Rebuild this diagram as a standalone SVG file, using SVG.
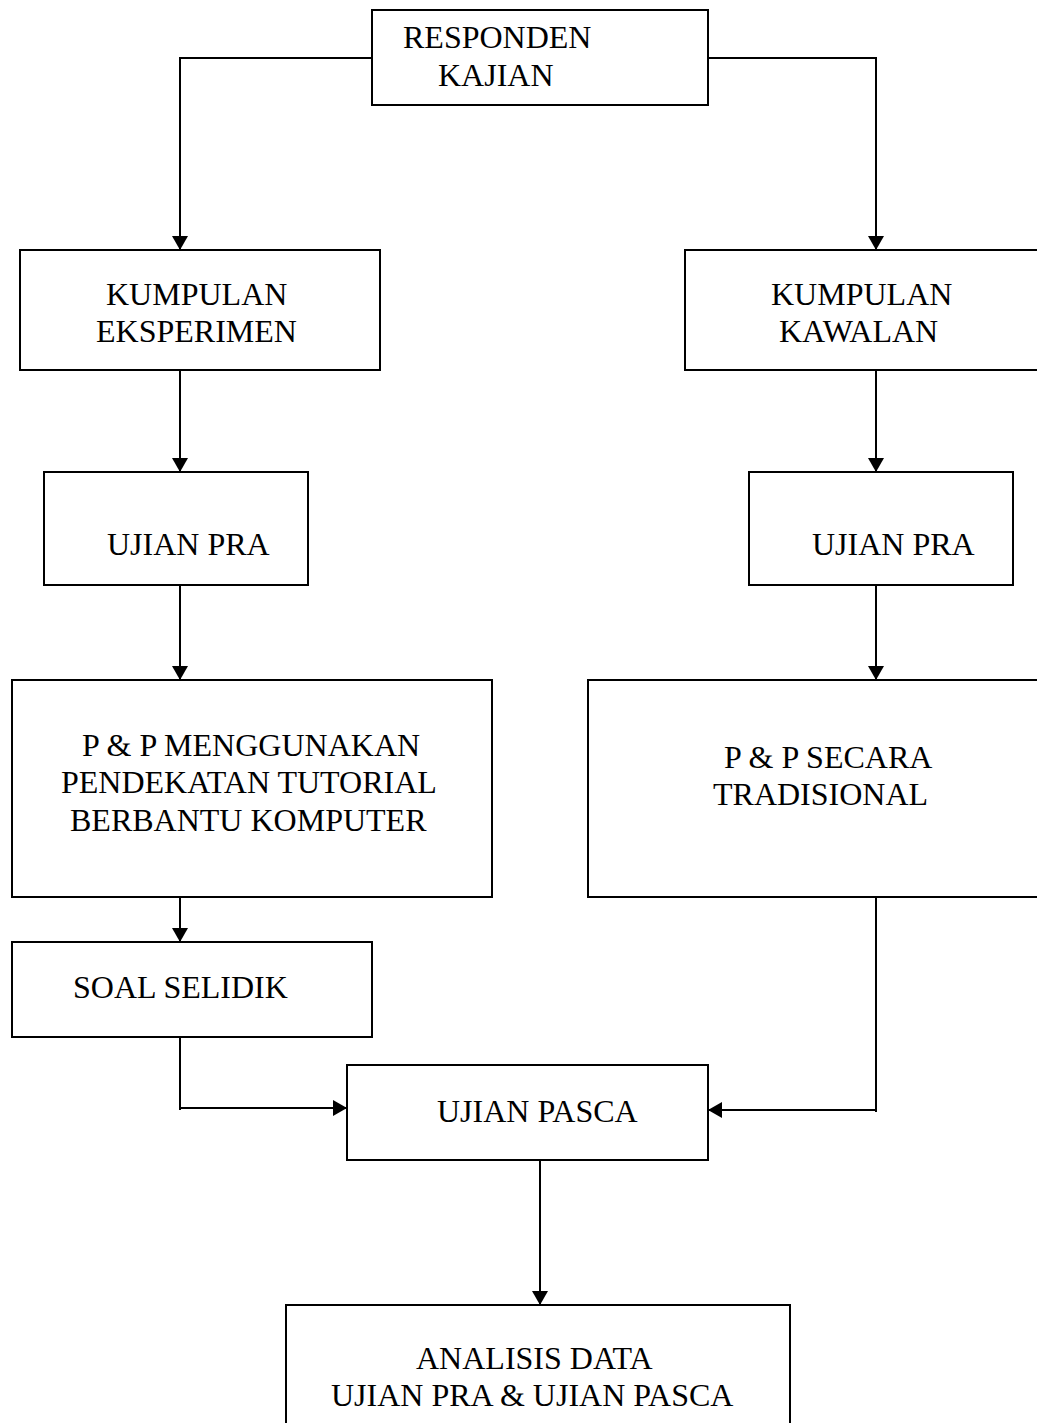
<svg xmlns="http://www.w3.org/2000/svg" width="1037" height="1423" viewBox="0 0 1037 1423">
<style>
.box{fill:#fff;stroke:#000;stroke-width:2}
.t{font-family:"Liberation Serif","Times New Roman",serif;font-size:32px;fill:#000}
.c{fill:none;stroke:#000;stroke-width:2}
</style>
<defs>
<marker id="ah" markerWidth="14" markerHeight="16" refX="14" refY="8" orient="auto" markerUnits="userSpaceOnUse">
<path d="M0,0 L14,8 L0,16 Z" fill="#000"/>
</marker>
</defs>
<rect width="1037" height="1423" fill="#fff"/>
<g id="connectors">
<path class="c" d="M372,58 H180 V250" marker-end="url(#ah)"/>
<path class="c" d="M708,58 H876 V250" marker-end="url(#ah)"/>
<path class="c" d="M180,370 V472" marker-end="url(#ah)"/>
<path class="c" d="M876,370 V472" marker-end="url(#ah)"/>
<path class="c" d="M180,585 V680" marker-end="url(#ah)"/>
<path class="c" d="M876,585 V680" marker-end="url(#ah)"/>
<path class="c" d="M180,897 V942" marker-end="url(#ah)"/>
<path class="c" d="M180,1037 V1110"/>
<path class="c" d="M180,1108 H347" marker-end="url(#ah)"/>
<path class="c" d="M876,897 V1112"/>
<path class="c" d="M876,1110 H708" marker-end="url(#ah)"/>
<path class="c" d="M540,1160 V1305" marker-end="url(#ah)"/>
</g>
<g id="n-responden"><rect class="box" x="372" y="10" width="336" height="95"/><text class="t" x="403" y="48">RESPONDEN</text><text class="t" x="438" y="86">KAJIAN</text></g>
<g id="n-eksperimen"><rect class="box" x="20" y="250" width="360" height="120"/><text class="t" x="106" y="305">KUMPULAN</text><text class="t" x="96" y="342">EKSPERIMEN</text></g>
<g id="n-kawalan"><rect class="box" x="685" y="250" width="360" height="120"/><text class="t" x="771" y="305">KUMPULAN</text><text class="t" x="779" y="342">KAWALAN</text></g>
<g id="n-prakiri"><rect class="box" x="44" y="472" width="264" height="113"/><text class="t" x="107" y="555">UJIAN PRA</text></g>
<g id="n-prakanan"><rect class="box" x="749" y="472" width="264" height="113"/><text class="t" x="812" y="555">UJIAN PRA</text></g>
<g id="n-tutorial"><rect class="box" x="12" y="680" width="480" height="217"/><text class="t" x="82" y="756">P &amp; P MENGGUNAKAN</text><text class="t" x="61" y="793">PENDEKATAN TUTORIAL</text><text class="t" x="70" y="831">BERBANTU KOMPUTER</text></g>
<g id="n-tradisional"><rect class="box" x="588" y="680" width="460" height="217"/><text class="t" x="724" y="768">P &amp; P SECARA</text><text class="t" x="713" y="805">TRADISIONAL</text></g>
<g id="n-soal"><rect class="box" x="12" y="942" width="360" height="95"/><text class="t" x="73" y="998">SOAL SELIDIK</text></g>
<g id="n-pasca"><rect class="box" x="347" y="1065" width="361" height="95"/><text class="t" x="437" y="1122">UJIAN PASCA</text></g>
<g id="n-analisis"><rect class="box" x="286" y="1305" width="504" height="130"/><text class="t" x="416" y="1369">ANALISIS DATA</text><text class="t" x="331" y="1406">UJIAN PRA &amp; UJIAN PASCA</text></g>
</svg>
